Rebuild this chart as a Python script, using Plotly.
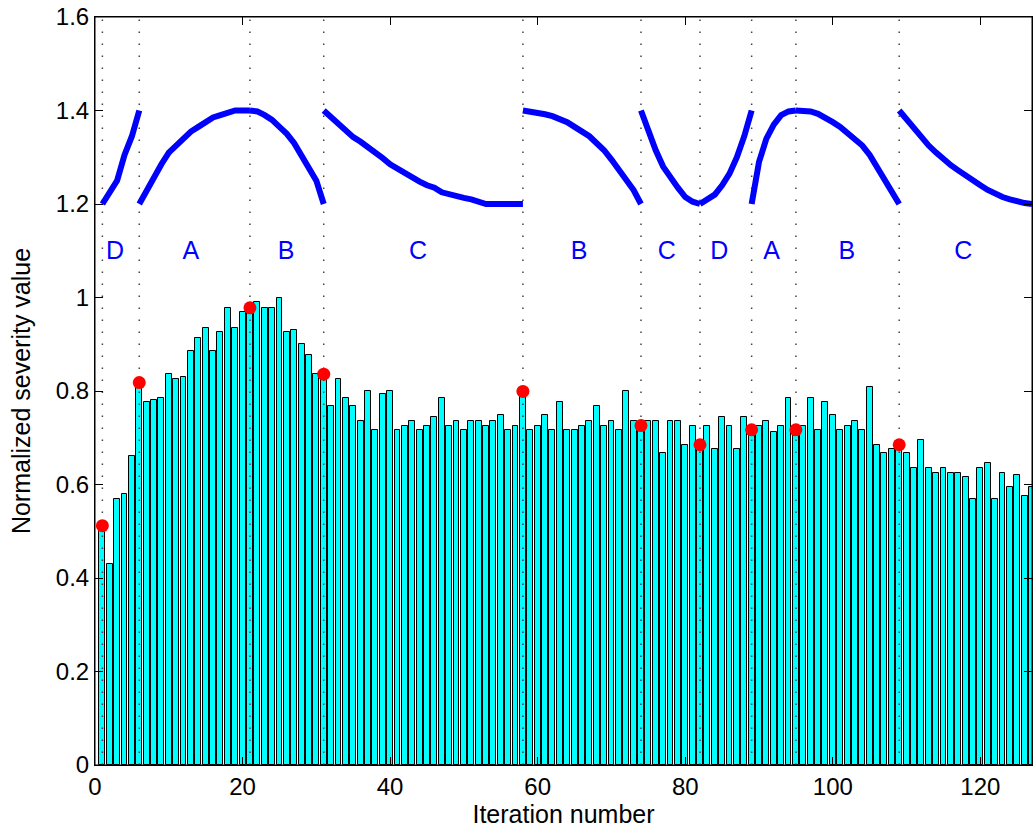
import plotly.graph_objects as go

iterations = list(range(1, 128))
severity = [
    0.510, 0.429, 0.570, 0.580, 0.662, 0.815, 0.776, 0.781, 0.786, 0.836,
    0.826, 0.831, 0.886, 0.913, 0.935, 0.886, 0.927, 0.977, 0.935, 0.968,
    0.975, 0.991, 0.977, 0.977, 1.000, 0.927, 0.931, 0.900, 0.877, 0.836,
    0.835, 0.767, 0.826, 0.786, 0.767, 0.735, 0.799, 0.717, 0.794, 0.799,
    0.717, 0.726, 0.735, 0.717, 0.726, 0.744, 0.786, 0.726, 0.735, 0.717,
    0.735, 0.735, 0.726, 0.735, 0.749, 0.717, 0.726, 0.799, 0.717, 0.726,
    0.749, 0.717, 0.776, 0.717, 0.717, 0.726, 0.735, 0.767, 0.726, 0.735,
    0.717, 0.799, 0.735, 0.726, 0.735, 0.735, 0.667, 0.735, 0.735, 0.685,
    0.726, 0.685, 0.726, 0.676, 0.744, 0.726, 0.676, 0.744, 0.717, 0.726,
    0.735, 0.712, 0.726, 0.786, 0.717, 0.726, 0.786, 0.717, 0.776, 0.749,
    0.717, 0.726, 0.735, 0.717, 0.809, 0.685, 0.667, 0.676, 0.685, 0.667,
    0.635, 0.695, 0.635, 0.625, 0.635, 0.625, 0.625, 0.617, 0.570, 0.635,
    0.645, 0.570, 0.625, 0.594, 0.621, 0.575, 0.594,
]

# change points (red dots + dotted boundary lines)
change_x = [1, 6, 21, 31, 58, 74, 82, 89, 95, 109]
change_y = [0.512, 0.818, 0.978, 0.836, 0.799, 0.726, 0.685, 0.717, 0.717, 0.685]

# state curves drawn in the upper band
seg_x = [
    list(range(1, 7)),
    list(range(6, 22)),
    list(range(21, 32)),
    list(range(31, 59)),
    list(range(58, 75)),
    list(range(74, 83)),
    list(range(82, 90)),
    list(range(89, 96)),
    list(range(95, 110)),
    list(range(109, 128)),
]
seg_y = [
    [1.20, 1.225, 1.25, 1.305, 1.345, 1.40],
    [1.20, 1.23, 1.26, 1.285, 1.31, 1.325, 1.34, 1.355, 1.365, 1.375, 1.385, 1.39, 1.395, 1.40, 1.40, 1.40],
    [1.40, 1.398, 1.39, 1.38, 1.365, 1.35, 1.33, 1.305, 1.28, 1.25, 1.20],
    [1.40, 1.385, 1.37, 1.355, 1.343, 1.333, 1.322, 1.31, 1.298, 1.285, 1.275, 1.265, 1.257, 1.248,
     1.24, 1.235, 1.225, 1.22, 1.215, 1.213, 1.21, 1.205, 1.20, 1.20, 1.20, 1.20, 1.20, 1.20],
    [1.40, 1.398, 1.395, 1.392, 1.388, 1.383, 1.375, 1.365, 1.355, 1.345, 1.33, 1.315, 1.295, 1.275,
     1.255, 1.23, 1.20],
    [1.40, 1.355, 1.315, 1.28, 1.255, 1.235, 1.215, 1.205, 1.20],
    [1.20, 1.21, 1.22, 1.24, 1.265, 1.30, 1.345, 1.40],
    [1.20, 1.29, 1.34, 1.37, 1.39, 1.398, 1.40],
    [1.40, 1.40, 1.398, 1.393, 1.385, 1.375, 1.365, 1.352, 1.34, 1.325, 1.305, 1.28, 1.255, 1.23, 1.20],
    [1.40, 1.38, 1.36, 1.345, 1.325, 1.31, 1.295, 1.283, 1.272, 1.26, 1.248, 1.24, 1.23, 1.222,
     1.215, 1.21, 1.205, 1.202, 1.20],
]

state_labels = ["D", "A", "B", "C", "B", "C", "D", "A", "B", "C"]
label_x = [2.7, 13.0, 25.9, 43.8, 65.6, 77.5, 84.6, 91.7, 101.9, 117.7]
label_y = 1.095

x_ticks = [0, 20, 40, 60, 80, 100, 120]
y_ticks = [0, 0.2, 0.4, 0.6, 0.8, 1.0, 1.2, 1.4, 1.6]
y_tick_text = ["0", "0.2", "0.4", "0.6", "0.8", "1", "1.2", "1.4", "1.6"]

FONT = "Liberation Sans, Arial, sans-serif"

fig = go.Figure()

fig.add_trace(go.Bar(
    x=iterations, y=severity, width=0.8,
    marker=dict(color="#00ffff", line=dict(color="black", width=1)),
    showlegend=False, hoverinfo="x+y",
))

# dotted vertical boundary lines
vx, vy = [], []
for b in change_x:
    vx += [b, b, None]
    vy += [0, 1.6, None]
fig.add_trace(go.Scatter(
    x=vx, y=vy, mode="lines",
    line=dict(color="#444444", width=1.5, dash="1.5px,10.5px"),
    showlegend=False, hoverinfo="skip",
))

# state curves
cx, cy = [], []
for xs, ys in zip(seg_x, seg_y):
    cx += xs + [None]
    cy += ys + [None]
fig.add_trace(go.Scatter(
    x=cx, y=cy, mode="lines",
    line=dict(color="#0000ff", width=6),
    showlegend=False, connectgaps=False,
))

# red change-point dots
fig.add_trace(go.Scatter(
    x=change_x, y=change_y, mode="markers",
    marker=dict(color="#ff0000", size=13),
    showlegend=False,
))

# state labels
fig.add_trace(go.Scatter(
    x=label_x, y=[label_y] * len(label_x), mode="text",
    text=state_labels, textposition="middle center",
    textfont=dict(color="#0000ff", size=25, family=FONT),
    showlegend=False, hoverinfo="skip",
))

tick_font = dict(family=FONT, size=24, color="black")
title_font = dict(family=FONT, size=25, color="black")

fig.update_layout(
    width=1033, height=830,
    margin=dict(l=95, r=1, t=17, b=65),
    paper_bgcolor="white", plot_bgcolor="white",
    bargap=0,
    font=tick_font,
    xaxis=dict(
        range=[0, 127], tickvals=x_ticks, automargin=False,
        showline=True, linecolor="black", linewidth=1, mirror="ticks",
        ticks="inside", ticklen=8, tickcolor="black", tickwidth=1,
        showgrid=False, zeroline=False, ticklabeloverflow="allow",
        tickfont=tick_font,
        title=dict(text="Iteration number", font=title_font, standoff=4),
    ),
    yaxis=dict(
        range=[0, 1.6], tickvals=y_ticks, ticktext=y_tick_text, automargin=False,
        showline=True, linecolor="black", linewidth=1, mirror="ticks",
        ticks="inside", ticklen=8, tickcolor="black", tickwidth=1,
        showgrid=False, zeroline=False, ticklabeloverflow="allow",
        tickfont=tick_font,
        title=dict(text="Normalized severity value", font=title_font, standoff=18),
    ),
    shapes=[dict(type="rect", xref="paper", yref="paper", x0=0, x1=1, y0=0, y1=1,
                 line=dict(color="black", width=1), layer="above")],
)

# remove the page's default body margin so the figure sits at the window origin
fig.write_html(
    "out.html",
    config={"displayModeBar": False},
    post_script="document.body.style.margin='0px';",
)
